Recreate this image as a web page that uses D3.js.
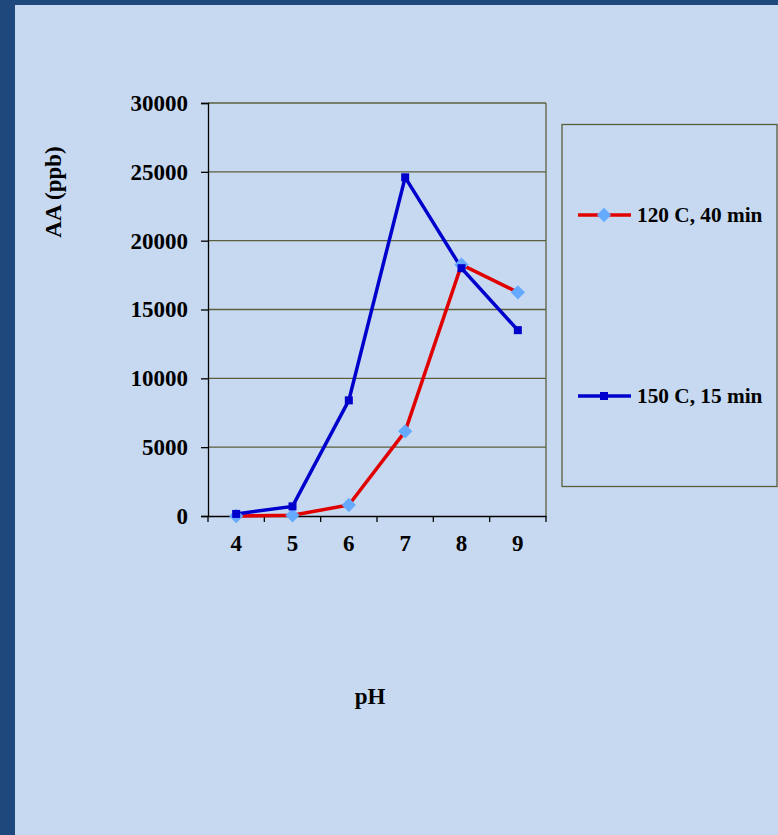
<!DOCTYPE html>
<html><head><meta charset="utf-8">
<script src="https://cdn.jsdelivr.net/npm/d3@7"></script>
<style>html,body{margin:0;padding:0;background:#c6d9f0;}svg{display:block;}</style>
</head><body>
<script>
const categories = ["4","5","6","7","8","9"];
const series1Name = "120 C, 40 min";
const series1 = [0, 50, 800, 6150, 18250, 16250];
const series2Name = "150 C, 15 min";
const series2 = [150, 700, 8400, 24600, 18000, 13500];
const yTicks = [0, 5000, 10000, 15000, 20000, 25000, 30000];

(function(){
const W = 778, H = 835;
const svg = d3.select("body").append("svg").attr("width", W).attr("height", H);
svg.append("rect").attr("width", W).attr("height", H).attr("fill", "#1f497d");
svg.append("rect").attr("x", 15).attr("y", 5).attr("width", W - 15).attr("height", H - 5).attr("fill", "#c6d9f0");

const pLeft = 208, pRight = 546, pTop = 103, pBottom = 516;
const x = d3.scaleBand().domain(categories).range([pLeft, pRight]);
const y = d3.scaleLinear().domain([0, 30000]).range([pBottom, pTop]);
const font = "'Liberation Serif','Times New Roman',serif";
const grid = "#5b5f3c";

svg.append("g").selectAll("line").data(yTicks.filter(d => d > 0)).join("line")
  .attr("x1", pLeft).attr("x2", pRight).attr("y1", d => y(d)).attr("y2", d => y(d))
  .attr("stroke", grid).attr("stroke-width", 1.3);
svg.append("line").attr("x1", pRight).attr("x2", pRight).attr("y1", pTop).attr("y2", pBottom)
  .attr("stroke", grid).attr("stroke-width", 1.3);

const yAxis = svg.append("g").attr("transform", `translate(${pLeft},0)`)
  .call(d3.axisLeft(y).tickValues(yTicks).tickSize(7).tickPadding(13).tickFormat(d3.format("d")));
yAxis.select(".domain").attr("stroke", "#000").attr("stroke-width", 1.3);
yAxis.selectAll(".tick line").attr("stroke", "#000").attr("stroke-width", 1.3);
yAxis.selectAll("text").attr("font-family", font).attr("font-weight", "bold").attr("font-size", 23).attr("fill", "#000");

const xAxis = svg.append("g").attr("transform", `translate(0,${pBottom})`)
  .call(d3.axisBottom(x).tickSize(0).tickPadding(19));
xAxis.select(".domain").attr("stroke", "#000").attr("stroke-width", 1.3);
xAxis.selectAll("text").attr("font-family", font).attr("font-weight", "bold").attr("font-size", 23).attr("fill", "#000");
const bounds = categories.map(c => x(c)).concat([pRight]);
svg.append("g").selectAll("line").data(bounds).join("line")
  .attr("x1", d => d).attr("x2", d => d).attr("y1", pBottom).attr("y2", pBottom + 6)
  .attr("stroke", "#000").attr("stroke-width", 1.3);

const cx = c => x(c) + x.bandwidth() / 2;
const line = d3.line().x((d, i) => cx(categories[i])).y(d => y(d));

svg.append("path").datum(series1).attr("d", line).attr("fill", "none")
  .attr("stroke", "#e00000").attr("stroke-width", 3.5);
svg.append("path").datum(series2).attr("d", line).attr("fill", "none")
  .attr("stroke", "#0000cc").attr("stroke-width", 3.5);

const diamond = d3.symbol().type(d3.symbolDiamond2).size(130);
svg.append("g").selectAll("path").data(series1).join("path")
  .attr("d", diamond).attr("transform", (d, i) => `translate(${cx(categories[i])},${y(d)})`)
  .attr("fill", "#66aaff");
svg.append("g").selectAll("rect").data(series2).join("rect")
  .attr("x", (d, i) => cx(categories[i]) - 4).attr("y", d => y(d) - 4)
  .attr("width", 8).attr("height", 8).attr("fill", "#0000cc");

svg.append("text").attr("transform", "translate(61,192) rotate(-90)").attr("text-anchor", "middle")
  .attr("font-family", font).attr("font-weight", "bold").attr("font-size", 23).text("AA (ppb)");
svg.append("text").attr("x", 370).attr("y", 704).attr("text-anchor", "middle")
  .attr("font-family", font).attr("font-weight", "bold").attr("font-size", 23).text("pH");

svg.append("rect").attr("x", 562).attr("y", 124.5).attr("width", 215).attr("height", 362)
  .attr("fill", "none").attr("stroke", grid).attr("stroke-width", 1.3);
const legend = [
  {name: series1Name, color: "#e00000", marker: "diamond", yy: 215},
  {name: series2Name, color: "#0000cc", marker: "square", yy: 396}
];
legend.forEach(l => {
  svg.append("line").attr("x1", 578).attr("x2", 631).attr("y1", l.yy).attr("y2", l.yy)
    .attr("stroke", l.color).attr("stroke-width", 3.5);
  if (l.marker === "diamond") {
    svg.append("path").attr("d", diamond).attr("transform", `translate(604,${l.yy})`).attr("fill", "#66aaff");
  } else {
    svg.append("rect").attr("x", 600).attr("y", l.yy - 4).attr("width", 8).attr("height", 8).attr("fill", "#0000cc");
  }
  svg.append("text").attr("x", 637).attr("y", l.yy + 7).attr("font-family", font)
    .attr("font-weight", "bold").attr("font-size", 21.3).text(l.name);
});
})();
</script>
</body></html>
